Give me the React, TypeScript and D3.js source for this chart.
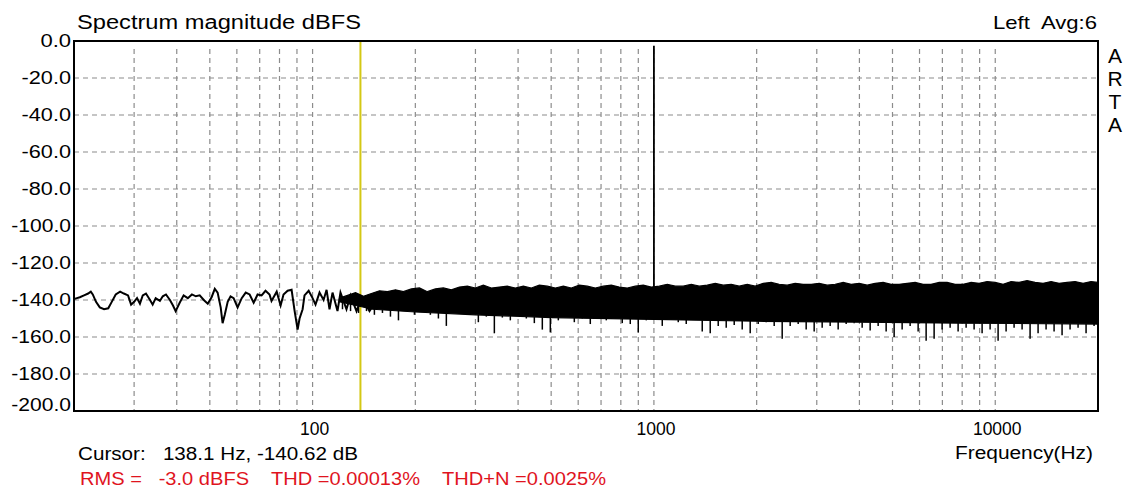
import React from "react";
import * as d3 from "d3";

const W = 1125;
const H = 491;
const frame = { left: 74, right: 1098, top: 41, bottom: 411 };

// axes
const yTicks = [0, -20, -40, -60, -80, -100, -120, -140, -160, -180, -200];
const xGrid = [30, 40, 50, 60, 70, 80, 90, 100, 200, 300, 400, 500, 600, 700, 800, 900,
  1000, 2000, 3000, 4000, 5000, 6000, 7000, 8000, 9000, 10000];
const xLabels = [100, 1000, 10000];

// low frequency part of the trace (Hz / dBFS)
const lowFreq = [20.0, 20.4, 20.8, 21.4, 22.0, 22.4, 22.7, 23.2, 23.8, 24.5, 25.2, 25.8, 26.5, 27.3, 28.0, 28.8,
  29.4, 30.0, 30.6, 31.2, 31.8, 32.5, 33.4, 34.0, 34.7, 35.7, 36.4, 37.2, 38.2, 39.0, 39.7, 40.8, 41.9, 43.1,
  44.3, 45.5, 46.7, 48.0, 49.3, 50.6, 51.7, 52.7, 53.8, 54.5, 55.3, 56.4, 57.5, 58.7, 60.3, 62.0, 63.7, 65.4,
  67.2, 69.0, 70.9, 72.8, 74.8, 75.8, 78.5, 80.6, 82.2, 84.5, 86.8, 88.6, 90.4, 91.6, 93.5, 94.7, 97.4, 100,
  102, 104.8, 107.7, 109.9, 112.1, 114.4, 118.3, 120.7, 125.7, 129.1, 134.5, 139.1, 142.9, 146.8, 153.8];
const lowDb = [-139.5, -139, -138.5, -137.5, -136.5, -135.5, -137, -141, -144, -145, -144.5, -141, -137, -135.5,
  -136.5, -137.5, -142.5, -141, -139, -142, -137.5, -136.5, -140, -142.5, -139, -140.5, -138, -137, -140, -143,
  -146, -141.5, -137.5, -139, -137, -138, -137.5, -140, -142, -138.5, -134, -136, -144, -152.5, -148, -141,
  -138, -139, -144, -139, -136, -137, -141.5, -137, -137.5, -135, -137, -140.5, -135.5, -143, -137, -135,
  -134.5, -146, -156, -150, -145, -137.5, -135, -139, -142.5, -136, -140, -134.5, -145, -136, -146, -136,
  -145, -137.5, -146, -139, -142, -146, -140.5];

// dense noise band above ~120 Hz: upper edge and lowest excursions (Hz / dBFS)
const bandFreq = [119.9, 126.6, 133.6, 141.0, 148.7, 157.0, 165.7, 174.9, 184.5, 194.8, 205.6, 216.9, 229.0,
  241.6, 255.0, 269.2, 284.1, 299.8, 316.4, 334.0, 352.5, 372.0, 392.6, 414.4, 437.4, 461.6, 487.2, 514.2,
  542.7, 572.8, 604.5, 638.0, 673.4, 710.7, 750.1, 791.6, 835.5, 881.8, 930.7, 982.2, 1036.7, 1094.2, 1154.8,
  1218.7, 1286.3, 1357.6, 1432.8, 1512.2, 1596.0, 1684.5, 1777.8, 1876.3, 1980.3, 2090.1, 2205.9, 2328.2,
  2457.2, 2593.4, 2737.1, 2888.8, 3049.0, 3218.0, 3396.3, 3584.6, 3783.2, 3992.9, 4214.2, 4447.8, 4694.4,
  4954.5, 5229.1, 5519.0, 5824.9, 6147.7, 6488.5, 6848.1, 7227.7, 7628.3, 8051.1, 8497.4, 8968.4, 9465.5,
  9990, 10544, 11128, 11745, 12396, 13083, 13808, 14574, 15381, 16234, 17134, 18084, 19086, 20000];
const bandTop = [-139, -137.5, -136, -138, -136.5, -135, -135.5, -134.5, -135.5, -134, -133.5, -135.5, -134,
  -133.5, -134.5, -133, -132.5, -133.5, -132, -133.5, -133, -132.5, -133.5, -132.5, -133.5, -132, -132.5, -133.5,
  -132.5, -133.5, -132, -132.5, -133.5, -132.5, -132, -133, -133.5, -132.5, -132, -133, -132.5, -131.5, -132.5,
  -132.5, -131.5, -132.5, -132, -131, -132, -131.5, -132.5, -131.5, -132.5, -131, -130.5, -131.5, -132, -131,
  -131.5, -131.5, -131, -132, -131.5, -130.5, -131.5, -131, -132, -131, -130.5, -131.5, -131.5, -131, -130.5,
  -131.5, -131.5, -130.5, -130.5, -131.5, -131.5, -130.5, -131, -130, -130.5, -131.5, -130, -130.5, -129.5, -130.5,
  -131, -130, -131, -130.5, -130, -131, -130, -130.5];
const bandBottom = [-145, -146, -147, -146, -148, -147, -149, -151, -146, -148, -146, -148, -150, -154, -147,
  -145.5, -147.5, -152, -149, -158, -149.5, -151, -147.5, -150, -152.5, -156, -157.5, -151, -149, -152, -150,
  -153, -149, -151, -148, -152.5, -153, -157.5, -151, -150, -154, -149, -152, -153, -150, -157, -158, -154,
  -155, -153.5, -156, -158, -153, -152, -154, -161, -154, -153, -156, -157, -155, -154, -156, -153, -152.5,
  -155, -156.5, -154, -157, -160, -156, -154, -157, -162, -161, -156, -155, -157, -155, -156, -158, -156,
  -162, -157, -155, -156, -161, -158, -156, -157, -159, -156, -155, -158, -154, -156];
// solid lower edge of the band
const coreFreq = [119.9, 150, 200, 300, 500, 1000, 2000, 4000, 8000, 20000];
const coreDb = [-141, -145, -146.5, -148, -149.5, -150.5, -151.5, -152, -152.5, -153];

// test tone and cursor
const toneFreq = 1000;
const toneBase = -133;
const toneDb = -2.5;
const cursorFreq = 138.1;
const cursorDb = -140.62;
const rmsDbfs = -3.0;

const FONT = "'Liberation Sans', Arial, sans-serif";

function labelWidth(s: string) {
  let w = 0;
  for (const ch of s) {
    if (ch === "-") w += 8.5;
    else if (ch === ".") w += 10;
    else w += 10.3;
  }
  return w;
}

export default function App() {
  const x = d3.scaleLog().domain([20, 20000]).range([frame.left, frame.right]);
  const y = d3.scaleLinear().domain([0, -200]).range([frame.top, frame.bottom]);
  const core = d3.scaleLog().domain(coreFreq).range(coreDb);

  const line = d3.line<number>()
    .x((_, i) => x(lowFreq[i]))
    .y((d) => y(d));

  // upper edge forward, then back along the solid lower edge
  const topPath = d3.line<number>()
    .x((_, i) => x(bandFreq[i]))
    .y((d) => y(d))(bandTop) ?? "";
  const backPath = coreFreq.slice().reverse()
    .map((f) => `L${x(f)},${y(core(f))}`).join("");

  return (
    <div>
      <style>{`body{margin:0;background:#fff}`}</style>
      <svg width={W} height={H} style={{ display: "block", fontFamily: FONT }}>
        <defs>
          <clipPath id="plot">
            <rect x={frame.left} y={frame.top} width={frame.right - frame.left} height={frame.bottom - frame.top} />
          </clipPath>
        </defs>
        <rect width={W} height={H} fill="#fff" />

        {/* grid */}
        <g stroke="#8c8c8c" strokeWidth={1.2} strokeDasharray="5,4">
          {yTicks.slice(1, -1).map((t) => (
            <line key={"h" + t} x1={frame.left} x2={frame.right} y1={y(t)} y2={y(t)} />
          ))}
          {xGrid.map((f) => (
            <line key={"v" + f} x1={x(f)} x2={x(f)} y1={frame.top + 8} y2={frame.bottom} />
          ))}
        </g>

        {/* cursor */}
        <line x1={x(cursorFreq)} x2={x(cursorFreq)} y1={frame.top} y2={frame.bottom}
          stroke="#d4c814" strokeWidth={2} />

        {/* spectrum */}
        <g clipPath="url(#plot)">
          <path d={topPath + backPath + "Z"} fill="#000" stroke="#000" strokeWidth={1.2} />
          <g stroke="#000" strokeWidth={1.5}>
            {bandFreq.map((f, i) => (
              <line key={"s" + i} x1={x(f) + 3} x2={x(f) + 3} y1={y(core(f))}
                y2={y(Math.min(bandBottom[i], core(f)))} />
            ))}
          </g>
          <path d={line(lowDb) ?? ""} fill="none" stroke="#000" strokeWidth={2} strokeLinejoin="miter" />
          <line x1={x(toneFreq)} x2={x(toneFreq)} y1={y(toneBase)} y2={y(toneDb)} stroke="#000" strokeWidth={1.8} />
        </g>

        {/* frame */}
        <rect x={frame.left} y={frame.top} width={frame.right - frame.left} height={frame.bottom - frame.top}
          fill="none" stroke="#000" strokeWidth={2} />

        {/* y labels */}
        {yTicks.map((t) => {
          const s = t.toFixed(1);
          return (
            <text key={"yl" + t} x={71} y={Math.min(y(t) + 6, frame.bottom)} textAnchor="end" fontSize={17.5}
              fill="#000" textLength={labelWidth(s)} lengthAdjust="spacingAndGlyphs">
              {s}
            </text>
          );
        })}

        {/* x labels */}
        {xLabels.map((f) => (
          <text key={"xl" + f} x={x(f) + 2} y={435} textAnchor="middle" fontSize={17.5} fill="#000">
            {String(f)}
          </text>
        ))}

        <text x={77} y={29} fontSize={19.5} fill="#000" textLength={284} lengthAdjust="spacingAndGlyphs">
          Spectrum magnitude dBFS
        </text>
        <text x={993} y={29} fontSize={19} fill="#000" textLength={104} lengthAdjust="spacingAndGlyphs"
          style={{ whiteSpace: "pre" }}>
          {"Left  Avg:6"}
        </text>
        {["A", "R", "T", "A"].map((c, i) => (
          <text key={"arta" + i} x={1115} y={63 + i * 23} textAnchor="middle" fontSize={21} fill="#000">
            {c}
          </text>
        ))}
        <text x={955} y={459} fontSize={18} fill="#000" textLength={138} lengthAdjust="spacingAndGlyphs">
          Frequency(Hz)
        </text>
        <text x={78} y={460} fontSize={18} fill="#000" textLength={280} lengthAdjust="spacingAndGlyphs"
          style={{ whiteSpace: "pre" }}>
          {`Cursor:   ${cursorFreq.toFixed(1)} Hz, ${cursorDb.toFixed(2)} dB`}
        </text>
        <text x={80} y={485} fontSize={18} fill="#e0141e" textLength={526} lengthAdjust="spacingAndGlyphs"
          style={{ whiteSpace: "pre" }}>
          {`RMS =   ${rmsDbfs.toFixed(1)} dBFS    THD =0.00013%    THD+N =0.0025%`}
        </text>
      </svg>
    </div>
  );
}
